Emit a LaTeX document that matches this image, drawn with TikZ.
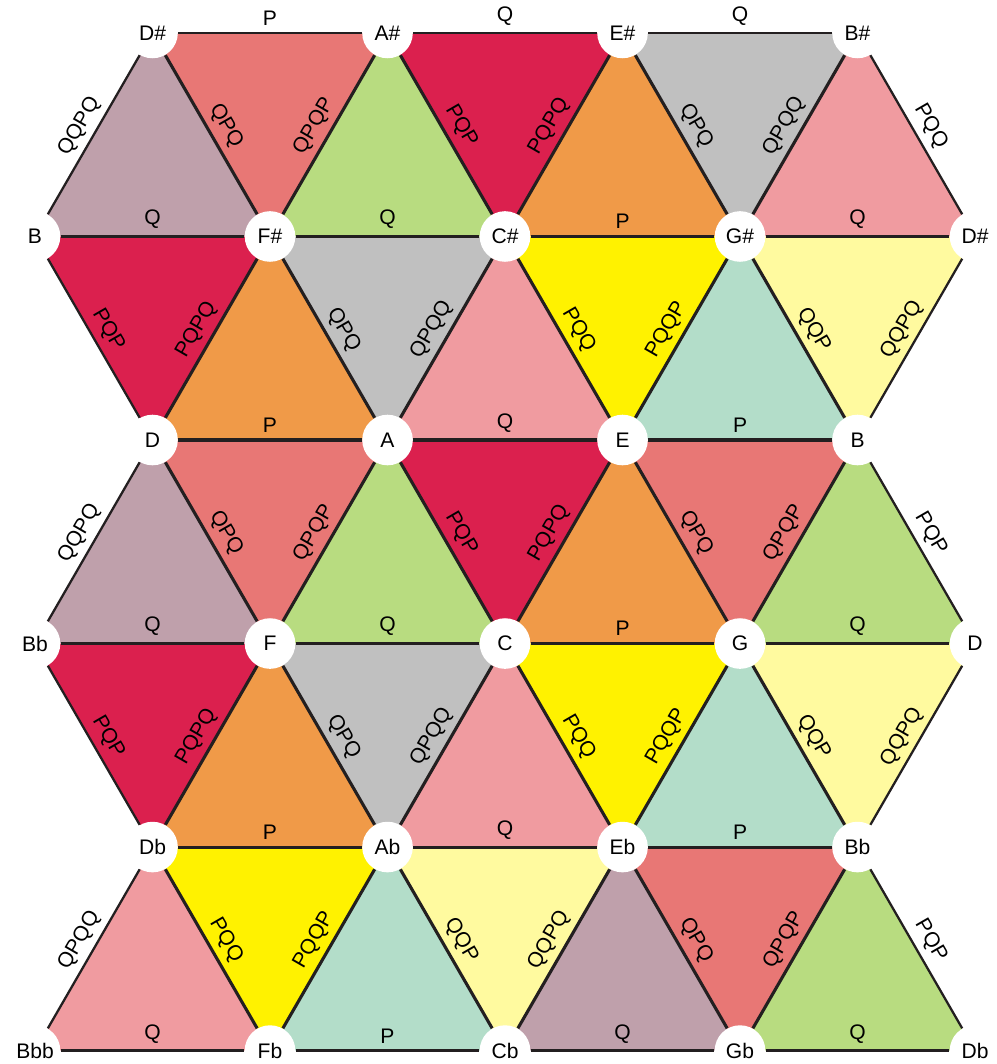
\documentclass[tikz,border=0pt]{standalone}
\usepackage{fontspec}
\setmainfont{Liberation Sans}
\definecolor{ink}{HTML}{231F20}
\definecolor{mauve}{HTML}{BFA0AB}
\definecolor{salmon}{HTML}{E87775}
\definecolor{leaf}{HTML}{B8DC80}
\definecolor{crimson}{HTML}{DB204E}
\definecolor{apricot}{HTML}{F09A48}
\definecolor{ash}{HTML}{C0C0C0}
\definecolor{rose}{HTML}{F09BA0}
\definecolor{lemon}{HTML}{FFF200}
\definecolor{mint}{HTML}{B3DDC9}
\definecolor{cream}{HTML}{FFFA9F}
\usetikzlibrary{backgrounds}

\begin{document}
\begin{tikzpicture}[x=2cm,y=3.4641cm,
  font=\fontsize{10.2}{12}\selectfont,
  pc/.style={circle,fill=white,minimum size=24.5pt,inner sep=0pt},
  edge/.style={draw=ink,line width=1.5pt},
  rim/.style={draw=ink,line width=1.1pt},
  tag/.style={midway,above,sloped,inner sep=3pt}]
\useasboundingbox (-4.298,0.162) rectangle (4.179,-5.066);
\node[pc] (Ds0) at (-3,0) {D\#};  \node[pc] (As0) at (-1,0) {A\#};
\node[pc] (Es0) at (1,0) {E\#};   \node[pc] (Bs0) at (3,0) {B\#};
\node[pc] (B1) at (-4,-1) {B};    \node[pc] (Fs1) at (-2,-1) {F\#};
\node[pc] (Cs1) at (0,-1) {C\#};  \node[pc] (Gs1) at (2,-1) {G\#};
\node[pc] (Ds1) at (4,-1) {D\#};
\node[pc] (D2) at (-3,-2) {D};    \node[pc] (A2) at (-1,-2) {A};
\node[pc] (E2) at (1,-2) {E};     \node[pc] (B2) at (3,-2) {B};
\node[pc] (Bb3) at (-4,-3) {Bb};  \node[pc] (F3) at (-2,-3) {F};
\node[pc] (C3) at (0,-3) {C};     \node[pc] (G3) at (2,-3) {G};
\node[pc] (D3) at (4,-3) {D};
\node[pc] (Db4) at (-3,-4) {Db};  \node[pc] (Ab4) at (-1,-4) {Ab};
\node[pc] (Eb4) at (1,-4) {Eb};   \node[pc] (Bb4) at (3,-4) {Bb};
\node[pc] (Bbb5) at (-4,-5) {Bbb}; \node[pc] (Fb5) at (-2,-5) {Fb};
\node[pc] (Cb5) at (0,-5) {Cb};   \node[pc] (Gb5) at (2,-5) {Gb};
\node[pc] (Db5) at (4,-5) {Db};
\begin{scope}[on background layer]
\foreach \a/\b/\c/\col in {Ds0/B1/Fs1/mauve, Ds0/As0/Fs1/salmon, As0/Fs1/Cs1/leaf,
    As0/Es0/Cs1/crimson, Es0/Cs1/Gs1/apricot, Es0/Bs0/Gs1/ash, Bs0/Gs1/Ds1/rose,
    B1/Fs1/D2/crimson, Fs1/D2/A2/apricot, Fs1/Cs1/A2/ash, Cs1/A2/E2/rose,
    Cs1/Gs1/E2/lemon, Gs1/E2/B2/mint, Gs1/Ds1/B2/cream,
    D2/Bb3/F3/mauve, D2/A2/F3/salmon, A2/F3/C3/leaf, A2/E2/C3/crimson,
    E2/C3/G3/apricot, E2/B2/G3/salmon, B2/G3/D3/leaf,
    Bb3/F3/Db4/crimson, F3/Db4/Ab4/apricot, F3/C3/Ab4/ash, C3/Ab4/Eb4/rose,
    C3/G3/Eb4/lemon, G3/Eb4/Bb4/mint, G3/D3/Bb4/cream,
    Db4/Bbb5/Fb5/rose, Db4/Ab4/Fb5/lemon, Ab4/Fb5/Cb5/mint, Ab4/Eb4/Cb5/cream,
    Eb4/Cb5/Gb5/mauve, Eb4/Bb4/Gb5/salmon, Bb4/Gb5/Db5/leaf}
  \fill[\col] (\a.center) -- (\b.center) -- (\c.center) -- cycle;
\end{scope}
\foreach \a/\b/\t in {Ds0/As0/P, As0/Es0/Q, Es0/Bs0/Q,
    B1/Ds0/QQPQ, B1/D2/PQP, Bb3/D2/QQPQ, Bb3/Db4/PQP, Bbb5/Db4/QPQQ,
    Bs0/Ds1/PQQ, B2/Ds1/QQPQ, B2/D3/PQP, Bb4/D3/QQPQ, Bb4/Db5/PQP,
    Bbb5/Fb5/Q, Fb5/Cb5/P, Cb5/Gb5/Q, Gb5/Db5/Q}
  \draw[rim] (\a) -- node[tag]{\t} (\b);
\foreach \a/\b/\t in {B1/Fs1/Q, Fs1/Cs1/Q, Cs1/Gs1/P, Gs1/Ds1/Q,
    D2/A2/P, A2/E2/Q, E2/B2/P, Bb3/F3/Q, F3/C3/Q, C3/G3/P, G3/D3/Q,
    Db4/Ab4/P, Ab4/Eb4/Q, Eb4/Bb4/P,
    Fs1/As0/QPQP, Cs1/Es0/PQPQ, Gs1/Bs0/QPQQ, D2/Fs1/PQPQ, A2/Cs1/QPQQ,
    E2/Gs1/PQQP, F3/A2/QPQP, C3/E2/PQPQ, G3/B2/QPQP, Db4/F3/PQPQ,
    Ab4/C3/QPQQ, Eb4/G3/PQQP, Fb5/Ab4/PQQP, Cb5/Eb4/QQPQ, Gb5/Bb4/QPQP,
    Ds0/Fs1/QPQ, As0/Cs1/PQP, Es0/Gs1/QPQ, Fs1/A2/QPQ, Cs1/E2/PQQ,
    Gs1/B2/QQP, D2/F3/QPQ, A2/C3/PQP, E2/G3/QPQ, F3/Ab4/QPQ,
    C3/Eb4/PQQ, G3/Bb4/QQP, Db4/Fb5/PQQ, Ab4/Cb5/QQP, Eb4/Gb5/QPQ}
  \draw[edge] (\a) -- node[tag]{\t} (\b);
\end{tikzpicture}
\end{document}
